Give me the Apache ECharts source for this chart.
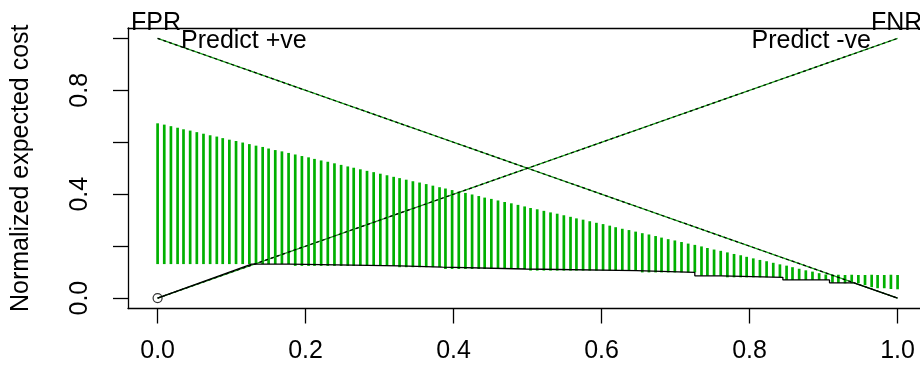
<!DOCTYPE html>
<html>
<head>
<meta charset="utf-8">
<script src="https://cdn.jsdelivr.net/npm/echarts@6/dist/echarts.min.js"></script>
<style>html,body{margin:0;padding:0;background:#fff;}#c{width:920px;height:367px;}</style>
</head>
<body>
<div id="c"></div>
<script>
// ---- data ----
var xTicks = [0, 0.2, 0.4, 0.6, 0.8, 1.0];
var yTicks = [0, 0.2, 0.4, 0.6, 0.8, 1.0];
var yTickLabels = [0, 0.4, 0.8];

// probability cost values at which the spread bars are drawn
var costX = [0.000,0.009,0.018,0.027,0.035,0.044,0.053,0.062,0.071,0.080,0.088,0.097,0.106,0.115,0.124,0.133,0.142,0.150,0.159,0.168,
0.177,0.186,0.195,0.204,0.212,0.221,0.230,0.239,0.248,0.257,0.265,0.274,0.283,0.292,0.301,0.310,0.319,0.327,0.336,0.345,
0.354,0.363,0.372,0.381,0.389,0.398,0.407,0.416,0.425,0.434,0.442,0.451,0.460,0.469,0.478,0.487,0.496,0.504,0.513,0.522,
0.531,0.540,0.549,0.558,0.566,0.575,0.584,0.593,0.602,0.611,0.619,0.628,0.637,0.646,0.655,0.664,0.673,0.681,0.690,0.699,
0.708,0.717,0.726,0.735,0.743,0.752,0.761,0.770,0.779,0.788,0.796,0.805,0.814,0.823,0.832,0.841,0.850,0.858,0.867,0.876,
0.885,0.894,0.903,0.912,0.920,0.929,0.938,0.947,0.956,0.965,0.973,0.982,0.991,1.000];

var upperCost = [0.673,0.668,0.662,0.656,0.650,0.645,0.639,0.633,0.627,0.622,0.616,0.610,0.605,0.599,0.593,0.587,0.582,0.576,0.570,0.565,
0.559,0.553,0.547,0.542,0.536,0.530,0.525,0.519,0.513,0.507,0.502,0.496,0.490,0.485,0.479,0.473,0.467,0.462,0.456,0.450,
0.445,0.439,0.433,0.427,0.422,0.416,0.410,0.405,0.399,0.393,0.387,0.382,0.376,0.370,0.365,0.359,0.353,0.347,0.342,0.336,
0.330,0.325,0.319,0.313,0.307,0.302,0.296,0.290,0.285,0.279,0.273,0.267,0.262,0.256,0.250,0.245,0.239,0.233,0.227,0.222,
0.216,0.210,0.205,0.199,0.193,0.187,0.182,0.176,0.170,0.165,0.159,0.153,0.147,0.142,0.136,0.130,0.125,0.119,0.113,0.107,
0.102,0.096,0.091,0.090,0.090,0.089,0.090,0.089,0.089,0.090,0.089,0.089,0.090,0.089];

var lowerCost = [0.131,0.131,0.131,0.131,0.131,0.131,0.131,0.131,0.131,0.131,0.131,0.131,0.131,0.131,0.131,0.131,0.131,0.131,0.131,0.131,
0.131,0.124,0.124,0.124,0.124,0.124,0.124,0.124,0.124,0.124,0.124,0.124,0.124,0.124,0.124,0.124,0.124,0.119,0.119,0.119,
0.119,0.119,0.119,0.119,0.112,0.112,0.112,0.112,0.112,0.112,0.112,0.112,0.112,0.112,0.112,0.112,0.112,0.106,0.106,0.106,
0.106,0.106,0.106,0.106,0.106,0.106,0.106,0.106,0.106,0.106,0.106,0.106,0.106,0.106,0.099,0.099,0.099,0.099,0.099,0.099,
0.099,0.099,0.099,0.086,0.086,0.086,0.086,0.080,0.080,0.080,0.080,0.080,0.080,0.080,0.080,0.080,0.070,0.070,0.070,0.070,
0.070,0.070,0.070,0.059,0.058,0.057,0.057,0.057,0.050,0.042,0.038,0.038,0.035,0.034];

// lower envelope (black line)
var envX = [0, 0.127, 0.178, 0.178, 0.327, 0.327, 0.385, 0.385, 0.497, 0.497, 0.647, 0.647, 0.726, 0.726, 0.762, 0.762, 0.845, 0.845, 0.908, 0.908, 0.941, 1.0];
var envY = [0, 0.131, 0.131, 0.124, 0.124, 0.119, 0.119, 0.112, 0.112, 0.106, 0.106, 0.099, 0.099, 0.086, 0.086, 0.080, 0.080, 0.070, 0.070, 0.059, 0.059, 0.0];

// trivial classifiers
var fprLineX = [0, 1], fprLineY = [1, 0];
var fnrLineX = [0, 1], fnrLineY = [0, 1];

var FONT = "'Liberation Sans', Arial, sans-serif";

var chart = echarts.init(document.getElementById('c'), null, {renderer: 'canvas'});
function pairs(xs, ys) { return xs.map(function (x, i) { return [x, ys[i]]; }); }
function fmt(v) { return (+v).toFixed(1); }
var boxLine = {show: true, onZero: false, lineStyle: {color: '#000', width: 1.3}};

chart.setOption({
  animation: false,
  backgroundColor: '#ffffff',
  grid: {left: 128, top: 28, right: 0, height: 280.5, show: false},
  xAxis: [{
    type: 'value', min: -0.04, max: 1.0303, position: 'bottom',
    axisLine: boxLine,
    splitLine: {show: false},
    axisTick: {show: true, inside: false, customValues: xTicks, length: 15, lineStyle: {color: '#000', width: 1.3}},
    axisLabel: {show: true, customValues: xTicks, margin: 30, color: '#000', fontSize: 25, fontFamily: FONT, formatter: fmt}
  }, {
    type: 'value', min: -0.04, max: 1.0303, position: 'top',
    axisLine: boxLine, axisTick: {show: false}, axisLabel: {show: false}, splitLine: {show: false}
  }],
  yAxis: {
    type: 'value', min: -0.04, max: 1.04, position: 'left',
    name: 'Normalized expected cost', nameLocation: 'middle', nameGap: 94,
    nameTextStyle: {color: '#000', fontSize: 25, fontFamily: FONT},
    axisLine: boxLine,
    splitLine: {show: false},
    axisTick: {show: true, inside: false, customValues: yTicks, length: 15, lineStyle: {color: '#000', width: 1.3}},
    axisLabel: {show: true, customValues: yTickLabels, rotate: 90, margin: 35, color: '#000', fontSize: 25, fontFamily: FONT, formatter: fmt}
  },
  series: [
    {
      type: 'custom', name: 'spread', z: 2,
      data: costX.map(function (x, i) { return [x, lowerCost[i], upperCost[i]]; }),
      encode: {x: 0, y: [1, 2]},
      renderItem: function (params, api) {
        var p1 = api.coord([api.value(0), api.value(1)]);
        var p2 = api.coord([api.value(0), api.value(2)]);
        return {type: 'line', shape: {x1: p1[0], y1: p1[1], x2: p2[0], y2: p2[1]},
          style: {stroke: '#00b000', lineWidth: 2.7}};
      }
    },
    {type: 'line', z: 3, data: pairs(fprLineX, fprLineY), showSymbol: false, lineStyle: {color: '#19a319', width: 1.2}},
    {type: 'line', z: 4, data: pairs(fprLineX, fprLineY), showSymbol: false, lineStyle: {color: '#000', width: 1.2, type: [3, 3]}},
    {type: 'line', z: 3, data: pairs(fnrLineX, fnrLineY), showSymbol: false, lineStyle: {color: '#19a319', width: 1.2}},
    {type: 'line', z: 4, data: pairs(fnrLineX, fnrLineY), showSymbol: false, lineStyle: {color: '#000', width: 1.2, type: [3, 3]}},
    {type: 'line', z: 5, data: pairs(envX, envY), showSymbol: false, lineStyle: {color: '#000', width: 1.3}},
    {type: 'scatter', z: 6, data: [[envX[0], envY[0]]], symbol: 'circle', symbolSize: 9,
      itemStyle: {color: 'rgba(0,0,0,0)', borderColor: '#000', borderWidth: 1.2}}
  ],
  graphic: [
    {type: 'text', left: 131, top: 11, z: 10, style: {text: 'FPR', fill: '#000', fontSize: 25, fontFamily: FONT}},
    {type: 'text', left: 181, top: 29, z: 10, style: {text: 'Predict +ve', fill: '#000', fontSize: 25, fontFamily: FONT}},
    {type: 'text', right: 49, top: 29, z: 10, style: {text: 'Predict -ve', fill: '#000', fontSize: 25, fontFamily: FONT}},
    {type: 'text', left: 871, top: 11, z: 10, style: {text: 'FNR', fill: '#000', fontSize: 25, fontFamily: FONT}}
  ]
});
</script>
</body>
</html>
